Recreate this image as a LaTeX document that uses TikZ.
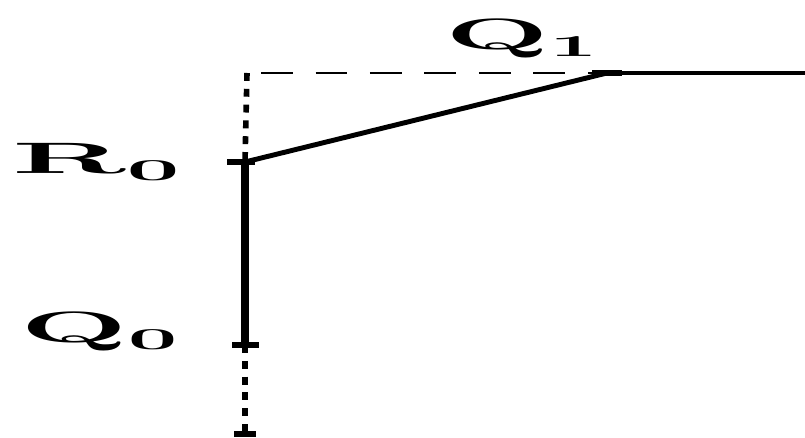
\documentclass[tikz,border=0pt]{standalone}
\usetikzlibrary{positioning}

\begin{document}
\begin{tikzpicture}[
    x=0.02cm, y=-0.02cm,
    lbl/.style={
        anchor=base west,
        inner sep=0pt,
        font=\fontsize{25}{25}\selectfont\bfseries
    },
    stem/.style={line width=5pt},
    link/.style={line width=2.8pt},
    tail/.style={line width=1.8pt},
    guide/.style={line width=1.2pt, dash pattern=on 18pt off 13pt, dash phase=-8pt},
    dotline/.style={line width=3.2pt, dash pattern=on 4.5pt off 4.5pt},
    tickmark/.style={line width=3pt}
]
\useasboundingbox (0,0) rectangle (805,438);

% ===== Points =====
\coordinate (corner) at (247,73);
\coordinate (q1)     at (607,73);
\coordinate (r0)     at (245,162);
\coordinate (q0)     at (245,345);
\coordinate (bottom) at (245,434);
\coordinate (rend)   at (805,73);

% ===== Labels =====
\node[lbl] (q1lbl) at (445,50)  {\scalebox{2.8}[1]{Q$_{\mathbf 1}$}};
\node[lbl] (r0lbl) at (12,174)  {\scalebox{3.1}[1]{R$_{\mathbf 0}$}};
\node[lbl] (q0lbl) at (20,343)  {\scalebox{2.9}[1]{Q$_{\mathbf 0}$}};

% ===== Guide Lines =====
\draw[guide]   (corner) -- (q1);
\draw[dotline] (corner) -- (r0);
\draw[dotline] (q0) -- (bottom);

% ===== Solid Lines =====
\draw[stem] (r0) -- (q0);
\draw[link] (r0) -- (q1);
\draw[tail] (q1) -- (rend);

% ===== Ticks =====
\draw[tickmark] ([xshift=-0.36cm]r0) -- ([xshift=0.2cm]r0);
\draw[tickmark] ([xshift=-0.26cm]q0) -- ([xshift=0.28cm]q0);
\draw[tickmark] ([xshift=-0.3cm]q1) -- ([xshift=0.3cm]q1);
\draw[tickmark] ([xshift=-0.22cm]bottom) -- ([xshift=0.22cm]bottom);

\end{tikzpicture}
\end{document}
